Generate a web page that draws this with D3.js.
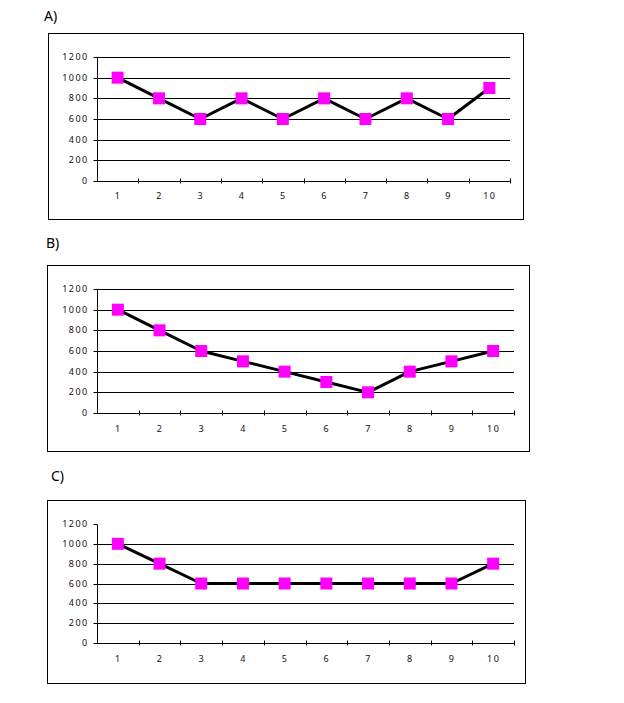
<!DOCTYPE html>
<html>
<head>
<meta charset="utf-8">
<script src="https://cdn.jsdelivr.net/npm/d3@7"></script>
<style>
  html, body { margin: 0; padding: 0; background: #fff; }
  svg { display: block; }
</style>
</head>
<body>
<svg id="chart" width="624" height="703"></svg>
<script>
const categories = ["1", "2", "3", "4", "5", "6", "7", "8", "9", "10"];
const yTicks = [0, 200, 400, 600, 800, 1000, 1200];
const panelLabels = ["A)", "B)", "C)"];
const seriesA = [1000, 800, 600, 800, 600, 800, 600, 800, 600, 900];
const seriesB = [1000, 800, 600, 500, 400, 300, 200, 400, 500, 600];
const seriesC = [1000, 800, 600, 600, 600, 600, 600, 600, 600, 800];

const svg = d3.select("#chart");
const FONT = "'Noto Sans', 'DejaVu Sans', sans-serif";

function drawPanel(cfg) {
  const g = svg.append("g");
  // outer frame
  g.append("rect")
    .attr("x", cfg.box[0] + 0.5).attr("y", cfg.box[1] + 0.5)
    .attr("width", cfg.box[2] - cfg.box[0]).attr("height", cfg.box[3] - cfg.box[1])
    .attr("fill", "#fff").attr("stroke", "#000").attr("stroke-width", 1);
  // panel label
  g.append("text")
    .attr("x", cfg.labelX).attr("y", cfg.labelY)
    .attr("font-family", FONT).attr("font-size", 14)
    .attr("fill", "#000")
    .text(cfg.label);

  const x = d3.scaleBand().domain(categories).range([cfg.left, cfg.right]).padding(0);
  const y = d3.scaleLinear().domain([0, 1200]).range([cfg.bottom, cfg.top]);

  // gridlines
  const gridVals = cfg.topGrid ? yTicks.slice(1) : yTicks.slice(1, -1);
  g.selectAll(".grid").data(gridVals).enter().append("line")
    .attr("x1", cfg.left).attr("x2", cfg.right)
    .attr("y1", d => Math.round(y(d)) + 0.5).attr("y2", d => Math.round(y(d)) + 0.5)
    .attr("stroke", "#000").attr("stroke-width", 1);

  // y axis
  const yAxis = d3.axisLeft(y).tickValues(yTicks).tickSize(4).tickPadding(5).tickFormat(d3.format("d"));
  const ya = g.append("g").attr("transform", `translate(${cfg.left + 0.5},0.5)`).call(yAxis);
  ya.selectAll("text").attr("font-family", FONT).attr("font-size", 9)
    .attr("letter-spacing", "1.4px").attr("fill", "#111");
  ya.selectAll("line, path").attr("stroke", "#000");
  ya.select(".domain").attr("d", `M0,${Math.round(y(1200))}V${Math.round(y(0))}`);
  ya.selectAll(".tick").attr("transform", d => `translate(0,${Math.round(y(d))})`);

  // x axis
  const xa = g.append("g").attr("transform", `translate(0,${Math.round(y(0)) + 0.5})`);
  xa.append("line").attr("x1", cfg.left).attr("x2", cfg.right).attr("stroke", "#000");
  const bounds = categories.map(c => x(c)).concat([cfg.right]);
  xa.selectAll(".xt").data(bounds.slice(1)).enter().append("line")
    .attr("x1", d => Math.round(d) + 0.5).attr("x2", d => Math.round(d) + 0.5)
    .attr("y1", -3).attr("y2", 2).attr("stroke", "#000");
  xa.selectAll(".xl").data(categories).enter().append("text")
    .attr("x", d => x(d) + x.bandwidth() / 2 + 0.5)
    .attr("y", cfg.xLabelDy)
    .attr("text-anchor", "middle")
    .attr("font-family", FONT).attr("font-size", 9)
    .attr("letter-spacing", "1.4px").attr("fill", "#111")
    .text(d => d);

  // line
  const line = d3.line()
    .x((d, i) => x(categories[i]) + x.bandwidth() / 2)
    .y(d => y(d));
  g.append("path").datum(cfg.data)
    .attr("d", line).attr("fill", "none")
    .attr("stroke", "#000").attr("stroke-width", 3).attr("stroke-linejoin", "round");

  // markers
  const ms = 12;
  g.selectAll(".mk").data(cfg.data).enter().append("rect")
    .attr("x", (d, i) => x(categories[i]) + x.bandwidth() / 2 - ms / 2)
    .attr("y", d => y(d) - ms / 2)
    .attr("width", ms).attr("height", ms)
    .attr("fill", "#ff00ff");
}

drawPanel({ label: panelLabels[0], labelX: 44, labelY: 21, box: [48, 33, 523, 219],
  left: 97, right: 510, top: 57, bottom: 181, topGrid: true, xLabelDy: 17, data: seriesA });
drawPanel({ label: panelLabels[1], labelX: 46, labelY: 248, box: [47, 265, 529, 451],
  left: 97, right: 514, top: 289, bottom: 413, topGrid: true, xLabelDy: 18, data: seriesB });
drawPanel({ label: panelLabels[2], labelX: 51, labelY: 481, box: [47, 500, 525, 683],
  left: 97, right: 514, top: 524, bottom: 643, topGrid: false, xLabelDy: 18, data: seriesC });
</script>
</body>
</html>
